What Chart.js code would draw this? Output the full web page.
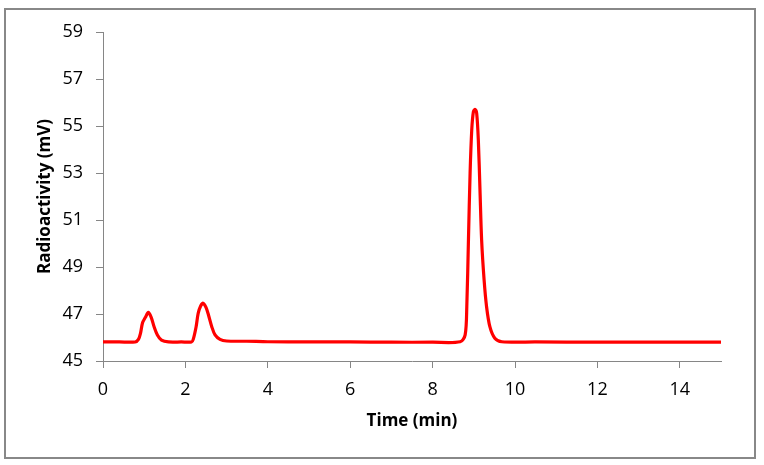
<!DOCTYPE html>
<html>
<head>
<meta charset="utf-8">
<title>Radioactivity chromatogram</title>
<script src="https://cdn.jsdelivr.net/npm/chart.js@4.4.1/dist/chart.umd.min.js"></script>
<style>
  html, body { margin: 0; padding: 0; background: #fff; }
  #wrap { width: 764px; height: 465px; }
</style>
</head>
<body>
<div id="wrap"><canvas id="trace" width="764" height="465"></canvas></div>
<script>
// ---- data (time in min, signal in mV) ----
const times = [
  0, 0.4, 0.78, 0.86, 0.91, 0.96, 1.03, 1.10, 1.17, 1.24, 1.32, 1.42, 1.59,
  1.9, 2.15, 2.19, 2.26, 2.31, 2.37, 2.43, 2.50, 2.56, 2.64, 2.72, 2.84, 3.0,
  3.49, 4.0, 5.0, 6.0, 7.0, 8.0, 8.67, 8.79, 8.83, 8.87, 8.91, 8.95, 8.99,
  9.03, 9.07, 9.11, 9.15, 9.19, 9.25, 9.31, 9.39, 9.51, 9.68, 10.5, 12.0,
  13.5, 15.0
];
const signal = [
  45.81, 45.81, 45.81, 45.92, 46.18, 46.63, 46.86, 47.07, 46.86, 46.46, 46.11, 45.89, 45.81,
  45.81, 45.81, 45.92, 46.46, 47.03, 47.34, 47.46, 47.28, 46.96, 46.46, 46.11, 45.92, 45.85,
  45.84, 45.82, 45.81, 45.81, 45.80, 45.80, 45.82, 46.11, 47.31, 50.15, 52.99, 54.83, 55.61,
  55.71, 55.54, 54.40, 52.28, 50.15, 48.45, 47.31, 46.46, 45.97, 45.82, 45.81, 45.80,
  45.80, 45.80
];
const xTicks = [0, 2, 4, 6, 8, 10, 12, 14];
const yTicks = [45, 47, 49, 51, 53, 55, 57, 59];

const axisGray = "#868686";
const font = { family: "'Open Sans', 'Liberation Sans', sans-serif", size: 18 };
const titleFont = { family: "'Open Sans', 'Liberation Sans', sans-serif", size: 17, weight: "bold" };

// outer frame like the spreadsheet chart box
const framePlugin = {
  id: "frame",
  beforeDraw(chart) {
    const ctx = chart.ctx;
    ctx.save();
    ctx.fillStyle = "#fff";
    ctx.fillRect(0, 0, chart.width, chart.height);
    ctx.restore();
  },
  afterDraw(chart) {
    const ctx = chart.ctx;
    ctx.save();
    ctx.strokeStyle = "#888";
    ctx.lineWidth = 2;
    ctx.strokeRect(5, 9, 750, 449);
    ctx.restore();
  }
};

new Chart(document.getElementById("trace").getContext("2d"), {
  type: "line",
  data: {
    datasets: [{
      label: "Radioactivity",
      data: times.map((t, i) => ({ x: t, y: signal[i] })),
      borderColor: "#ff0000",
      borderWidth: 3.2,
      pointRadius: 0,
      tension: 0.3,
      fill: false
    }]
  },
  options: {
    responsive: false,
    animation: false,
    layout: { padding: { top: 32, right: 43, bottom: 0, left: 0 } },
    plugins: { legend: { display: false }, tooltip: { enabled: false } },
    scales: {
      x: {
        type: "linear",
        min: 0, max: 15,
        afterFit(s) { s.height = 104; },
        afterBuildTicks(s) { s.ticks = xTicks.map(v => ({ value: v })); },
        grid: { drawOnChartArea: false, drawTicks: true, tickLength: 7, color: axisGray },
        border: { color: axisGray, width: 1 },
        ticks: { font, color: "#000", padding: 11, maxRotation: 0 },
        title: { display: true, text: "Time (min)", font: titleFont, color: "#000", padding: { top: 0, bottom: 34 } }
      },
      y: {
        min: 45, max: 59,
        afterFit(s) { s.width = 103; },
        afterBuildTicks(s) { s.ticks = yTicks.map(v => ({ value: v })); },
        grid: { drawOnChartArea: false, drawTicks: true, tickLength: 7, color: axisGray },
        border: { color: axisGray, width: 1 },
        ticks: { font, color: "#000", padding: 13 },
        title: { display: true, text: "Radioactivity (mV)", font: titleFont, color: "#000", padding: { top: 35, bottom: 0 } }
      }
    }
  },
  plugins: [framePlugin]
});
</script>
</body>
</html>
